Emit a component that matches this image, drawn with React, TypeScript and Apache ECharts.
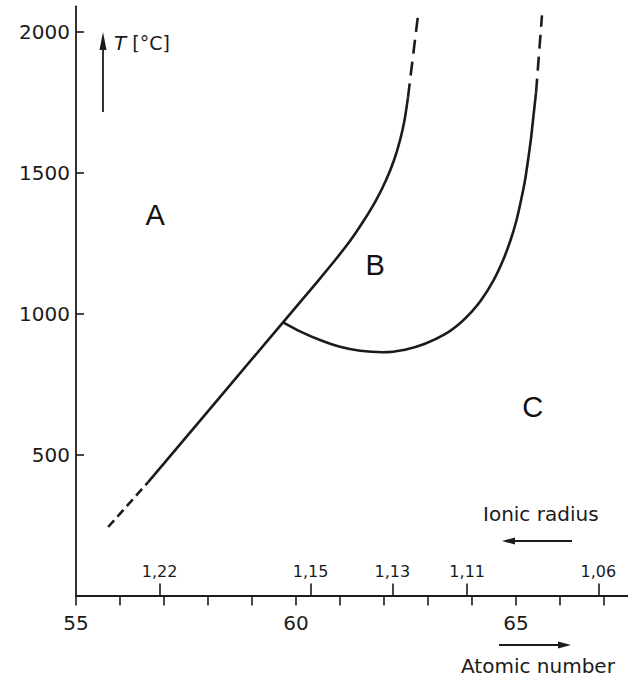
import React, { useEffect, useRef } from "react";
import * as echarts from "echarts";

// Phase boundary data: [atomic number, temperature °C]
const lowerDashed: number[][] = [
  [55.73, 243],
  [56.64, 402],
];
const abBoundary: number[][] = [
  [56.64, 402],
  [59.705, 969],
  [60.127, 1047],
  [60.511, 1118],
  [60.886, 1189],
  [61.239, 1260],
  [61.545, 1331],
  [61.818, 1402],
  [62.045, 1473],
  [62.227, 1544],
  [62.364, 1615],
  [62.466, 1686],
  [62.545, 1767],
];
const abDashed: number[][] = [
  [62.545, 1767],
  [62.66, 1915],
  [62.773, 2058],
];
const bcBoundary: number[][] = [
  [59.705, 969],
  [60.091, 937],
  [60.545, 906],
  [61.0, 882],
  [61.455, 868],
  [61.977, 863],
  [62.477, 872],
  [62.932, 893],
  [63.386, 927],
  [63.727, 966],
  [64.0, 1008],
  [64.205, 1047],
  [64.489, 1118],
  [64.705, 1189],
  [64.875, 1260],
  [65.011, 1331],
  [65.114, 1402],
  [65.205, 1473],
  [65.273, 1544],
  [65.336, 1615],
  [65.386, 1686],
  [65.455, 1784],
];
const bcDashed: number[][] = [
  [65.455, 1784],
  [65.59, 2058],
];

const regionNames = ["A", "B", "C"];
const regionPositions: number[][] = [
  [56.8, 1348],
  [61.8, 1171],
  [65.38, 668],
];

const ionicRadiusLabels = ["1,22", "1,15", "1,13", "1,11", "1,06"];
const ionicRadiusPositions = [56.9, 60.33, 62.19, 63.89, 66.87];

const atomicLabels = [55, 60, 65];
const tempLabels = [500, 1000, 1500, 2000];

const INK = "#1b1b1b";
const FONT = "DejaVu Sans";

export default function App() {
  const ref = useRef<HTMLDivElement>(null);
  useEffect(() => {
    document.body.style.margin = "0";
    if (!ref.current) return;
    const chart = echarts.init(ref.current, null, { renderer: "svg" });
    const lineSeries = (data: number[][], dashed: boolean, dash?: number[]) => ({
      type: "line",
      data,
      smooth: dashed ? false : 0.25,
      symbol: "none",
      lineStyle: {
        color: INK,
        width: 2.6,
        type: dashed ? dash : "solid",
        cap: "butt",
      },
      silent: true,
    });
    chart.setOption({
      animation: false,
      backgroundColor: "#ffffff",
      grid: { left: 76, right: 0, top: 6.3, bottom: 86.5, containLabel: false },
      xAxis: [
        {
          type: "value",
          min: 55,
          max: 67.545,
          interval: 1,
          position: "bottom",
          axisLine: { show: true, lineStyle: { color: INK, width: 1.8 } },
          axisTick: { show: true, inside: false, length: 10, lineStyle: { color: INK, width: 1.6 } },
          axisLabel: {
            show: true,
            margin: 17,
            fontSize: 20,
            fontFamily: FONT,
            color: INK,
            showMaxLabel: false,
            formatter: (v: number) =>
              atomicLabels.indexOf(Math.round(v)) >= 0 && Math.abs(v - Math.round(v)) < 1e-6
                ? String(Math.round(v))
                : "",
          },
          splitLine: { show: false },
        },
        {
          type: "value",
          min: 55,
          max: 67.545,
          position: "bottom",
          offset: 0,
          axisLine: { show: false },
          axisTick: {
            show: true,
            inside: true,
            length: 12,
            customValues: ionicRadiusPositions,
            lineStyle: { color: INK, width: 1.6 },
          },
          axisLabel: {
            show: true,
            inside: true,
            margin: 16,
            fontSize: 16,
            fontFamily: FONT,
            color: INK,
            customValues: ionicRadiusPositions,
            formatter: (v: number) => {
              let best = 0;
              for (let i = 0; i < ionicRadiusPositions.length; i++) {
                if (Math.abs(ionicRadiusPositions[i] - v) < Math.abs(ionicRadiusPositions[best] - v)) best = i;
              }
              return ionicRadiusLabels[best];
            },
          },
          splitLine: { show: false },
        },
      ],
      yAxis: {
        type: "value",
        min: 0,
        max: 2090,
        interval: 500,
        axisLine: { show: true, lineStyle: { color: INK, width: 1.8 } },
        axisTick: { show: true, inside: true, length: 8, lineStyle: { color: INK, width: 1.6 } },
        axisLabel: {
          margin: 6,
          fontSize: 20,
          fontFamily: FONT,
          color: INK,
          showMaxLabel: false,
          formatter: (v: number) => (tempLabels.indexOf(v) >= 0 ? String(v) : ""),
        },
        splitLine: { show: false },
      },
      series: [
        lineSeries(lowerDashed, true, [9, 5]),
        lineSeries(abBoundary, false),
        lineSeries(abDashed, true, [14, 8]),
        lineSeries(bcBoundary, false),
        lineSeries(bcDashed, true, [14, 8]),
        {
          type: "scatter",
          data: regionPositions.map((p, i) => ({ value: p, name: regionNames[i] })),
          symbolSize: 1,
          itemStyle: { color: "rgba(0,0,0,0)" },
          silent: true,
          label: {
            show: true,
            position: "inside",
            formatter: (p: any) => p.name,
            fontSize: 29,
            fontFamily: "Liberation Sans",
            color: "#111111",
            opacity: 1,
          },
        },
      ],
      graphic: [
        { type: "line", shape: { x1: 103, y1: 112, x2: 103, y2: 46 }, style: { stroke: INK, lineWidth: 1.8 } },
        { type: "polygon", shape: { points: [[103, 32], [99.5, 50], [106.5, 50]] }, style: { fill: INK } },
        {
          type: "text",
          x: 114,
          y: 43,
          style: {
            text: "{i|T} [°C]",
            rich: {
              i: { fontStyle: "italic", fontSize: 20, fontFamily: FONT, fill: INK },
            },
            fontSize: 19,
            fontFamily: FONT,
            fill: INK,
            verticalAlign: "middle",
          },
        },
        {
          type: "text",
          x: 483,
          y: 514,
          style: { text: "Ionic radius", fontSize: 20, fontFamily: FONT, fill: INK, verticalAlign: "middle" },
        },
        { type: "line", shape: { x1: 572, y1: 541, x2: 512, y2: 541 }, style: { stroke: INK, lineWidth: 1.8 } },
        { type: "polygon", shape: { points: [[502, 541], [515, 537.5], [515, 544.5]] }, style: { fill: INK } },
        {
          type: "text",
          x: 461,
          y: 666,
          style: { text: "Atomic number", fontSize: 20, fontFamily: FONT, fill: INK, verticalAlign: "middle" },
        },
        { type: "line", shape: { x1: 499, y1: 645, x2: 560, y2: 645 }, style: { stroke: INK, lineWidth: 1.8 } },
        { type: "polygon", shape: { points: [[571, 645], [558, 641.5], [558, 648.5]] }, style: { fill: INK } },
      ],
    });
    return () => chart.dispose();
  }, []);
  return <div ref={ref} style={{ width: 628, height: 682 }} />;
}
